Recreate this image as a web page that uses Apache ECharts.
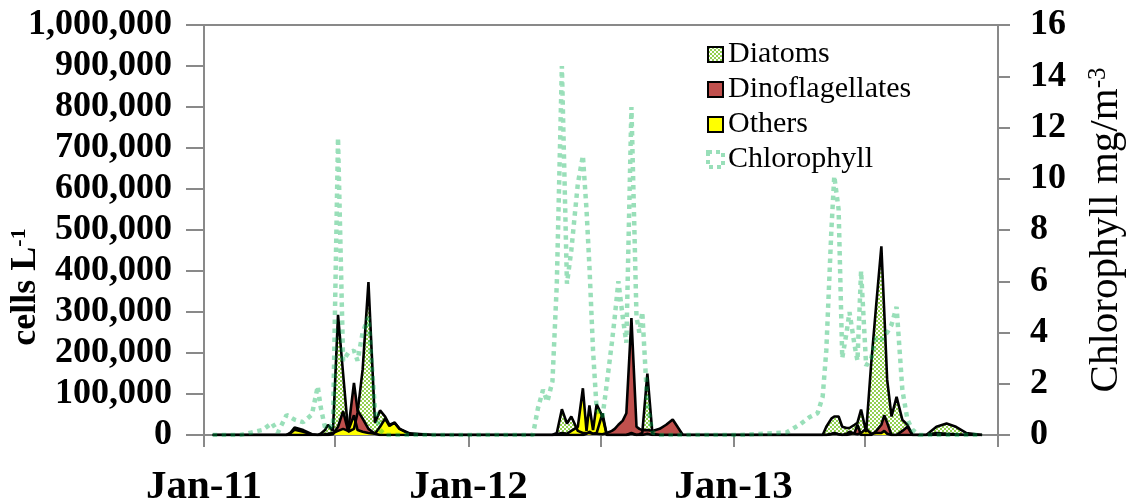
<!DOCTYPE html>
<html>
<head>
<meta charset="utf-8">
<title>Phytoplankton groups and chlorophyll</title>
<script src="https://cdn.jsdelivr.net/npm/echarts@6/dist/echarts.min.js"></script>
<style>
    html, body { margin: 0; padding: 0; background: #fff; }
    #chart { width: 1128px; height: 504px; }
</style>
</head>
<body>
<div id="chart"></div>
<script>
// sampling dates
var sampleDates = [
    '2011-01-13','2011-02-20','2011-03-23','2011-04-05','2011-04-13','2011-04-25','2011-04-30','2011-05-06',
    '2011-05-18','2011-05-30','2011-06-07','2011-06-11','2011-06-17','2011-06-21','2011-06-28','2011-07-05',
    '2011-07-12','2011-07-19','2011-07-27','2011-08-01','2011-08-08','2011-08-16','2011-08-25','2011-09-01',
    '2011-09-08','2011-09-14','2011-09-21','2011-09-28','2011-10-12','2011-11-13','2012-01-03','2012-02-27',
    '2012-03-30','2012-04-06','2012-04-13','2012-04-19','2012-04-26','2012-05-02','2012-05-09','2012-05-16',
    '2012-05-22','2012-05-31','2012-06-07','2012-06-12','2012-06-16','2012-06-21','2012-06-26','2012-07-04',
    '2012-07-10','2012-07-17','2012-07-21','2012-07-26','2012-08-01','2012-08-06','2012-08-13','2012-08-20',
    '2012-08-24','2012-08-28','2012-09-04','2012-09-11','2012-09-21','2012-09-30','2012-10-09','2012-10-23',
    '2012-11-15','2013-01-09','2013-03-15','2013-04-02','2013-04-16','2013-04-27','2013-05-04','2013-05-09',
    '2013-05-16','2013-05-20','2013-05-26','2013-05-31','2013-06-06','2013-06-10','2013-06-17','2013-06-21',
    '2013-06-26','2013-07-03','2013-07-10','2013-07-17','2013-07-24','2013-07-28','2013-08-01','2013-08-07',
    '2013-08-14','2013-08-22','2013-08-29','2013-09-05','2013-09-14','2013-09-24','2013-10-08','2013-10-22',
    '2013-11-04','2013-11-18','2013-12-10'
];

// cells L-1
var diatoms = [
    0, 0, 0, 0, 0, 0, 5000, 18000,
    12000, 2000, 0, 3000, 12000, 25000, 10000, 293000,
    150000, 8000, 15000, 55000, 160000, 373000, 30000, 60000,
    45000, 25000, 30000, 15000, 4000, 0, 0, 0,
    0, 0, 0, 0, 0, 5000, 63000, 28000,
    45000, 10000, 5000, 5000, 5000, 3000, 5000, 53000,
    0, 0, 0, 0, 0, 0, 5000, 0,
    2000, 5000, 150000, 3000, 0, 0, 0, 0,
    0, 0, 0, 0, 0, 0, 0, 20000,
    40000, 45000, 45000, 20000, 17000, 17000, 25000, 30000,
    62000, 7000, 175000, 320000, 460000, 300000, 135000, 45000,
    93000, 37000, 25000, 0, 0, 0, 20000, 28000,
    20000, 5000, 0
];

var dinoflagellates = [
    0, 0, 0, 0, 0, 0, 0, 0,
    0, 0, 0, 0, 0, 0, 2000, 20000,
    58000, 10000, 127000, 60000, 40000, 15000, 3000, 0,
    0, 0, 0, 0, 0, 0, 0, 0,
    0, 0, 0, 0, 0, 0, 0, 0,
    0, 0, 0, 3000, 8000, 3000, 3000, 2000,
    5000, 10000, 15000, 25000, 35000, 53000, 285000, 20000,
    15000, 12000, 12000, 10000, 15000, 25000, 38000, 0,
    0, 0, 0, 0, 0, 0, 0, 0,
    3000, 5000, 2000, 0, 0, 2000, 5000, 25000,
    0, 0, 0, 10000, 25000, 48000, 30000, 0,
    0, 10000, 20000, 0, 0, 0, 5000, 3000,
    2000, 0, 0
];

var others = [
    0, 0, 0, 0, 0, 0, 4000, 13000,
    8000, 1000, 0, 0, 2000, 3000, 5000, 10000,
    15000, 10000, 48000, 12000, 8000, 5000, 3000, 20000,
    40000, 22000, 30000, 15000, 2000, 0, 0, 0,
    0, 0, 0, 0, 0, 2000, 5000, 3000,
    10000, 20000, 114000, 10000, 72000, 12000, 75000, 45000,
    0, 0, 0, 0, 0, 0, 3000, 0,
    0, 0, 3000, 0, 0, 0, 0, 0,
    0, 0, 0, 0, 0, 0, 0, 0,
    2000, 3000, 2000, 0, 3000, 8000, 3000, 2000,
    5000, 15000, 3000, 5000, 5000, 10000, 3000, 0,
    0, 0, 0, 0, 0, 0, 0, 0,
    0, 0, 0
];

// mg/m-3
var chlorophyll = [
    0, 0, 0.2, 0.47, 0.1, 0.78, 0.7, 0.6,
    0.5, 0.8, 1.9, 1.1, 0.3, 0.4, 0.3, 11.6,
    2.9, 3.2, 3.3, 2.9, 4.0, 4.6, 1.0, 0.2,
    0, 0, 0, 0, 0, 0, 0, 0,
    0, 1.05, 1.76, 1.3, 2.1, 5.9, 14.4, 5.9,
    7.2, 9.8, 10.9, 8.8, 6.6, 3.3, 1.0, 0.7,
    2.0, 3.6, 4.6, 6.0, 4.6, 3.6, 12.8, 4.6,
    4.0, 4.8, 1.2, 0.1, 0, 0, 0, 0,
    0, 0, 0.1, 0.4, 0.7, 0.85, 1.5, 3.3,
    8.0, 10.1, 8.8, 3.0, 4.0, 4.8, 3.5, 2.9,
    6.4, 2.7, 3.0, 3.8, 3.7, 3.9, 4.0, 4.3,
    5.0, 1.75, 0.6, 0.2, 0, 0, 0, 0,
    0, 0, 0
];

var tickDates = ['2011-01-01','2011-07-01','2012-01-01','2012-07-01','2013-01-01','2013-07-01','2014-01-01'];
var labelDates = ['2011-01-01','2012-01-01','2013-01-01'];

var serif = "'Liberation Serif', 'Times New Roman', serif";

function toTime(s) {
    var p = s.split('-');
    return new Date(+p[0], +p[1] - 1, +p[2]).getTime();
}

function pairs(values) {
    return sampleDates.map(function (d, i) { return [toTime(d), values[i]]; });
}

// green checker fill for diatoms
function checker() {
    var c = document.createElement('canvas');
    c.width = 4;
    c.height = 4;
    var ctx = c.getContext('2d');
    ctx.fillStyle = '#ffffff';
    ctx.fillRect(0, 0, 4, 4);
    ctx.fillStyle = '#92d050';
    ctx.fillRect(0, 0, 2, 2);
    ctx.fillRect(2, 2, 2, 2);
    return { image: c, repeat: 'repeat' };
}
var diatomFill = checker();
var chlColor = 'rgba(0,176,80,0.4)';

var chart = echarts.init(document.getElementById('chart'));

var option = {
    animation: false,
    grid: {
        left: 204,
        right: 130,
        top: 25,
        bottom: 69,
        outerBoundsMode: 'none',
        show: true,
        borderColor: '#898989',
        borderWidth: 2
    },
    legend: {
        orient: 'vertical',
        left: 701,
        top: 32,
        itemWidth: 15,
        itemHeight: 15,
        itemGap: 0,
        textStyle: {
            fontFamily: serif,
            fontSize: 30,
            color: '#000',
            lineHeight: 35
        },
        data: [
            { name: 'Diatoms', icon: 'rect', itemStyle: { color: diatomFill, borderColor: '#000', borderWidth: 2 } },
            { name: 'Dinoflagellates', icon: 'rect', itemStyle: { color: '#c0504d', borderColor: '#000', borderWidth: 2 } },
            { name: 'Others', icon: 'rect', itemStyle: { color: '#ffff00', borderColor: '#000', borderWidth: 2 } },
            { name: 'Chlorophyll', icon: 'rect', itemStyle: { color: 'rgba(0,0,0,0)', borderColor: chlColor, borderWidth: 4, borderType: [4, 4] } }
        ]
    },
    xAxis: {
        type: 'value',
        min: toTime('2011-01-01'),
        max: toTime('2014-01-01'),
        splitLine: { show: false },
        axisLine: { lineStyle: { color: '#898989', width: 2 } },
        axisTick: {
            customValues: tickDates.map(toTime),
            length: 12,
            lineStyle: { color: '#898989', width: 2 }
        },
        axisLabel: {
            customValues: labelDates.map(toTime),
            margin: 32,
            fontFamily: serif,
            fontWeight: 'bold',
            fontSize: 41,
            color: '#000',
            formatter: function (v) {
                return 'Jan-' + String(new Date(v).getFullYear()).slice(2);
            }
        }
    },
    yAxis: [
        {
            type: 'value',
            position: 'left',
            min: 0,
            max: 1000000,
            interval: 100000,
            splitLine: { show: false },
            axisLine: { show: true, lineStyle: { color: '#898989', width: 2 } },
            axisTick: { show: true, length: 18, lineStyle: { color: '#898989', width: 2 } },
            axisLabel: {
                margin: 32,
                fontFamily: serif,
                fontWeight: 'bold',
                fontSize: 36,
                color: '#000',
                formatter: function (v) { return v.toLocaleString('en-US'); }
            },
            name: 'cells L{sup|-1}',
            nameLocation: 'middle',
            nameRotate: 90,
            nameGap: 160,
            nameMoveOverlap: false,
            nameTextStyle: {
                fontFamily: serif,
                fontWeight: 'bold',
                fontSize: 36,
                color: '#000',
                padding: [0, 114, 0, 0],
                rich: {
                    sup: { fontFamily: serif, fontWeight: 'bold', fontSize: 22, verticalAlign: 'top', color: '#000' }
                }
            }
        },
        {
            type: 'value',
            position: 'right',
            min: 0,
            max: 16,
            interval: 2,
            splitLine: { show: false },
            axisLine: { show: true, lineStyle: { color: '#898989', width: 2 } },
            axisTick: { show: true, length: 12, lineStyle: { color: '#898989', width: 2 } },
            axisLabel: {
                margin: 32,
                fontFamily: serif,
                fontWeight: 'bold',
                fontSize: 36,
                color: '#000'
            },
            name: 'Chlorophyll mg/m{sup|-3}',
            nameLocation: 'middle',
            nameRotate: 90,
            nameGap: 88,
            nameMoveOverlap: false,
            nameTextStyle: {
                fontFamily: serif,
                fontSize: 41,
                color: '#000',
                rich: {
                    sup: { fontFamily: serif, fontSize: 25, verticalAlign: 'top', color: '#000' }
                }
            }
        }
    ],
    series: [
        {
            name: 'Diatoms',
            type: 'line',
            yAxisIndex: 0,
            symbol: 'none',
            itemStyle: { color: '#92d050' },
            lineStyle: { color: '#000', width: 2.6 },
            areaStyle: { color: diatomFill, opacity: 1 },
            data: pairs(diatoms)
        },
        {
            name: 'Dinoflagellates',
            type: 'line',
            yAxisIndex: 0,
            symbol: 'none',
            itemStyle: { color: '#c0504d' },
            lineStyle: { color: '#000', width: 2.6 },
            areaStyle: { color: '#c0504d', opacity: 1 },
            data: pairs(dinoflagellates)
        },
        {
            name: 'Others',
            type: 'line',
            yAxisIndex: 0,
            symbol: 'none',
            itemStyle: { color: '#ffff00' },
            lineStyle: { color: '#000', width: 2.6 },
            areaStyle: { color: '#ffff00', opacity: 1 },
            data: pairs(others)
        },
        {
            name: 'Chlorophyll',
            type: 'line',
            yAxisIndex: 1,
            symbol: 'none',
            z: 3,
            itemStyle: { color: chlColor },
            lineStyle: { color: chlColor, width: 4.5, type: [4.5, 4.5], cap: 'butt' },
            data: pairs(chlorophyll)
        }
    ]
};

chart.setOption(option);
</script>
</body>
</html>
